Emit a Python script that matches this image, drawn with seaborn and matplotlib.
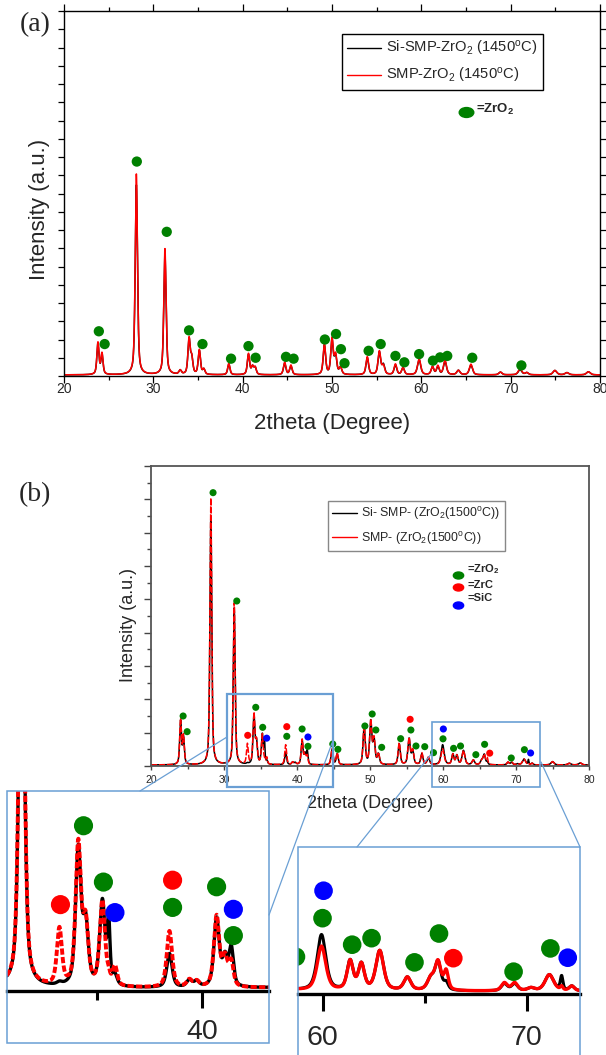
import numpy as np
import matplotlib
matplotlib.use("Agg")
import matplotlib.pyplot as plt
import seaborn as sns
from matplotlib.patches import Rectangle
from matplotlib.lines import Line2D
from matplotlib.path import Path
from matplotlib.ticker import MultipleLocator

# ---------------- data: panel (a) ----------------
a_pos = [23.8, 24.25, 28.1, 31.3, 33.0, 34.0, 34.3, 35.15, 35.65, 38.45, 40.65, 41.1, 41.4,
         44.7, 45.4, 49.15, 50.0, 50.4, 50.95, 53.95, 55.3, 55.75, 57.1, 57.95, 59.75, 61.25,
         61.85, 62.65, 64.15, 65.55, 68.85, 71.05, 71.8, 74.95, 76.3, 78.7]
a_red = [1.75, 1.15, 11.0, 6.9, 0.22, 1.95, 0.85, 1.35, 0.28, 0.62, 1.15, 0.42, 0.38,
         0.68, 0.52, 1.65, 1.95, 1.05, 0.38, 0.98, 1.28, 0.48, 0.58, 0.38, 0.88, 0.43,
         0.48, 0.78, 0.24, 0.58, 0.15, 0.33, 0.12, 0.24, 0.12, 0.17]
a_black = [1.7, 1.1, 10.4, 6.6, 0.22, 1.9, 0.85, 1.3, 0.28, 0.58, 1.1, 0.42, 0.38,
           0.63, 0.48, 1.6, 1.9, 1.0, 0.38, 0.93, 1.23, 0.53, 0.53, 0.38, 0.83, 0.43,
           0.43, 0.73, 0.24, 0.53, 0.15, 0.28, 0.12, 0.24, 0.12, 0.17]
a_width = [0.28, 0.28, 0.3, 0.3, 0.32, 0.3, 0.3, 0.3, 0.3, 0.3, 0.3, 0.3, 0.3,
           0.32, 0.32, 0.32, 0.32, 0.32, 0.34, 0.34, 0.35, 0.35, 0.35, 0.35, 0.42, 0.35,
           0.35, 0.4, 0.42, 0.42, 0.42, 0.48, 0.42, 0.5, 0.5, 0.5]
a_zro2_x = [23.9, 24.55, 28.15, 31.5, 34.0, 35.5, 38.7, 40.65, 41.45, 44.85, 45.7, 49.2,
            50.45, 51.0, 51.4, 54.1, 55.45, 57.1, 58.1, 59.75, 61.3, 62.1, 62.9, 65.7, 71.2]
a_zro2_y = [2.45, 1.75, 11.75, 7.9, 2.5, 1.75, 0.95, 1.64, 1.0, 1.05, 0.95, 2.0,
            2.3, 1.47, 0.7, 1.38, 1.75, 1.1, 0.75, 1.2, 0.84, 1.02, 1.1, 1.0, 0.58]
a_labels = ["Si-SMP-ZrO$_2$ (1450$^{\\rm o}$C)", "SMP-ZrO$_2$ (1450$^{\\rm o}$C)"]

# ---------------- data: panel (b) ----------------
b_pos = [24.05, 24.45, 28.2, 31.4, 33.2, 34.1, 34.45, 35.25, 35.55, 35.85, 38.45, 39.4, 39.75,
         40.7, 41.1, 41.4, 44.8, 45.5, 49.2, 50.1, 50.55, 51.15, 54.0, 55.35, 55.85, 57.1,
         58.0, 59.95, 61.35, 61.9, 62.8, 64.15, 65.3, 65.65, 66.05, 68.9, 69.4, 70.2, 71.1,
         71.7, 72.2, 75.0, 77.3, 78.8]
b_red = [2.7, 1.7, 16.0, 9.7, 1.2, 3.0, 1.3, 1.8, 0.15, 0.4, 1.2, 0.15, 0.12,
         1.5, 0.6, 0.5, 0.95, 0.7, 2.3, 2.6, 1.5, 0.65, 1.3, 1.6, 0.85, 0.7,
         0.45, 0.95, 0.62, 0.55, 0.85, 0.28, 0.25, 0.6, 0.4, 0.17, 0.17, 0.06, 0.35,
         0.08, 0.1, 0.2, 0.1, 0.12]
b_black = [2.6, 1.6, 14.9, 9.4, 0.05, 2.9, 1.3, 1.8, 1.3, 0.2, 0.72, 0.15, 0.12,
           1.45, 0.6, 0.8, 0.9, 0.65, 2.25, 2.55, 1.45, 0.6, 1.25, 1.55, 0.8, 0.65,
           0.4, 1.2, 0.62, 0.55, 0.85, 0.28, 0.25, 0.6, 0.15, 0.15, 0.15, 0.06, 0.35,
           0.3, 0.1, 0.2, 0.1, 0.12]
b_width = [0.28, 0.28, 0.3, 0.3, 0.28, 0.3, 0.3, 0.3, 0.15, 0.25, 0.3, 0.3, 0.3,
           0.3, 0.3, 0.25, 0.32, 0.32, 0.35, 0.35, 0.35, 0.35, 0.35, 0.38, 0.35, 0.35,
           0.4, 0.5, 0.35, 0.35, 0.45, 0.4, 0.4, 0.35, 0.25, 0.35, 0.35, 0.4, 0.5,
           0.15, 0.3, 0.5, 0.5, 0.5]
b_zro2_x = [24.4, 24.95, 28.5, 31.75, 34.35, 35.3, 38.6, 40.7, 41.5, 44.9, 45.6, 49.3, 50.3,
            50.8, 51.6, 54.2, 55.6, 56.3, 57.5, 58.7, 60.0, 61.45, 62.4, 64.5, 65.7, 69.35, 71.15]
b_zro2_y = [3.0, 2.06, 16.4, 9.9, 3.52, 2.32, 1.78, 2.22, 1.18, 1.32, 1.0, 2.4, 3.12,
            2.16, 1.12, 1.64, 2.16, 1.2, 1.16, 0.8, 1.63, 1.06, 1.2, 0.68, 1.3, 0.48, 0.98]
b_zrc_x = [33.25, 38.6, 55.5, 66.4]
b_zrc_y = [1.84, 2.36, 2.8, 0.77]
b_sic_x = [35.85, 41.5, 60.05, 72.0]
b_sic_y = [1.67, 1.74, 2.22, 0.78]
b_labels = ["Si- SMP- (ZrO$_2$(1500$^{\\rm o}$C))", "SMP- (ZrO$_2$(1500$^{\\rm o}$C))"]

zoom1_range = (30.7, 43.2)
zoom2_range = (58.8, 72.6)

GREEN, RED, BLUE = "#008000", "#FF0000", "#0000FF"
FRAME = "#6A9FD4"

# ---------------- style ----------------
sns.set_theme(style="ticks")
plt.rcParams["font.family"] = ["Liberation Sans", "DejaVu Sans"]
plt.rcParams["mathtext.fontset"] = "custom"
plt.rcParams["mathtext.rm"] = "Liberation Sans"
plt.rcParams["mathtext.bf"] = "Liberation Sans:bold"
plt.rcParams["mathtext.it"] = "Liberation Sans:italic"

W, H = 606, 1055
fig = plt.figure(figsize=(W / 100, H / 100), dpi=100)


def px_axes(l, t, r, b):
    return fig.add_axes([l / W, 1 - b / H, (r - l) / W, (b - t) / H])


def fp(x, y):
    return (x / W, 1 - y / H)


x_grid = np.linspace(20, 80, 12001)


def pattern(pos, hts, wid, base):
    y = np.full_like(x_grid, base)
    for p, h, w in zip(pos, hts, wid):
        d = (x_grid - p) / (w / 2)
        y = y + h * (0.55 / (1 + d ** 2) + 0.45 * np.exp(-np.log(2) * d ** 2))
    return y


a_blk = pattern(a_pos, a_black, a_width, 0.06)
a_rd = pattern(a_pos, a_red, a_width, 0.06)
b_blk = pattern(b_pos, b_black, b_width, 0.06)
b_rd = pattern(b_pos, b_red, b_width, 0.06)

ell = Path(Path.unit_circle().vertices * np.array([1.0, 0.68]), Path.unit_circle().codes)

# ---------------- panel (a) ----------------
axa = px_axes(64, 11, 600, 376)
sns.lineplot(x=x_grid, y=a_blk, ax=axa, color="black", lw=1.1, estimator=None, sort=False)
sns.lineplot(x=x_grid, y=a_rd, ax=axa, color=RED, lw=1.1, estimator=None, sort=False)
sns.scatterplot(x=a_zro2_x, y=a_zro2_y, ax=axa, color=GREEN, s=55, edgecolor="none", zorder=5)
axa.set_xlim(20, 80)
axa.set_ylim(0, 20)
axa.xaxis.set_major_locator(MultipleLocator(10))
axa.xaxis.set_minor_locator(MultipleLocator(5))
axa.yaxis.set_major_locator(MultipleLocator(1))
axa.tick_params(axis="both", which="both", direction="out", top=True, right=True,
                labeltop=False, labelright=False, labelleft=False, color="black", width=0.9)
axa.tick_params(axis="x", which="major", length=5, pad=-0.9, labelsize=10)
axa.tick_params(axis="x", which="minor", length=3)
axa.tick_params(axis="y", which="major", length=4)
for sp in axa.spines.values():
    sp.set_visible(True)
    sp.set_color("black")
    sp.set_linewidth(1.0)
axa.set_xlabel("2theta (Degree)", fontsize=16)
axa.xaxis.set_label_coords(0.5, -0.101)
axa.set_ylabel("Intensity (a.u.)", fontsize=16)
axa.yaxis.set_label_coords(-0.027, 0.4575)
h_a = [Line2D([], [], color="black", lw=1.0), Line2D([], [], color=RED, lw=1.0)]
leg = axa.legend(h_a, a_labels, loc="upper left", bbox_to_anchor=(0.519, 0.937), borderaxespad=0,
                 fontsize=10.6, handlelength=2.3, handletextpad=0.35, labelspacing=0.55,
                 borderpad=0.35, fancybox=False, framealpha=1, edgecolor="black")
leg.get_frame().set_linewidth(1.0)
axa.scatter([0.75], [0.723], transform=axa.transAxes, marker=ell, s=110, color=GREEN, clip_on=False)
axa.text(0.7687, 0.729, "=ZrO$_\\mathbf{2}$", transform=axa.transAxes, fontsize=9.5,
         fontweight="bold", va="center", ha="left")
fig.text(*fp(35, 25), "(a)", family="Liberation Serif", fontsize=20, ha="center", va="center")

# ---------------- panel (b) ----------------
axb = px_axes(151, 466, 589, 766)
sns.lineplot(x=x_grid, y=b_blk, ax=axb, color="black", lw=1.1, estimator=None, sort=False)
sns.lineplot(x=x_grid, y=b_rd, ax=axb, color=RED, lw=1.1, linestyle=(0, (4, 1.2)),
             estimator=None, sort=False)
sns.scatterplot(x=b_zro2_x, y=b_zro2_y, ax=axb, color=GREEN, s=26, edgecolor="none", zorder=5)
sns.scatterplot(x=b_zrc_x, y=b_zrc_y, ax=axb, color=RED, s=26, edgecolor="none", zorder=5)
sns.scatterplot(x=b_sic_x, y=b_sic_y, ax=axb, color=BLUE, s=26, edgecolor="none", zorder=5)
axb.set_xlim(20, 80)
axb.set_ylim(0, 18)
axb.xaxis.set_major_locator(MultipleLocator(10))
axb.xaxis.set_minor_locator(MultipleLocator(5))
axb.yaxis.set_major_locator(MultipleLocator(2))
axb.yaxis.set_minor_locator(MultipleLocator(1))
axb.tick_params(axis="both", which="both", direction="out", labelleft=False,
                color="#444444", width=1.0)
axb.tick_params(axis="x", which="major", length=3, pad=3.5, labelsize=7.5)
axb.tick_params(axis="x", which="minor", length=2)
axb.tick_params(axis="y", which="major", length=5)
axb.tick_params(axis="y", which="minor", length=3)
for sp in axb.spines.values():
    sp.set_visible(True)
    sp.set_color("#555555")
    sp.set_linewidth(1.3)
axb.set_xlabel("2theta (Degree)", fontsize=13)
axb.xaxis.set_label_coords(0.5, -0.097)
axb.set_ylabel("Intensity (a.u.)", fontsize=13)
axb.yaxis.set_label_coords(-0.032, 0.47)
h_b = [Line2D([], [], color="black", lw=1.0), Line2D([], [], color=RED, lw=1.0)]
legb = axb.legend(h_b, b_labels, loc="upper left", bbox_to_anchor=(0.404, 0.883), borderaxespad=0,
                  fontsize=8.9, handlelength=2.0, handletextpad=0.35, labelspacing=0.6,
                  borderpad=0.35, fancybox=False, framealpha=1, edgecolor="#888888")
legb.get_frame().set_linewidth(1.0)
for (my, ty, col, txt) in [(0.637, 0.657, GREEN, "=ZrO$_\\mathbf{2}$"),
                           (0.597, 0.603, RED, "=ZrC"),
                           (0.537, 0.56, BLUE, "=SiC")]:
    axb.scatter([0.701], [my], transform=axb.transAxes, marker=ell, s=55, color=col, clip_on=False)
    axb.text(0.7215, ty, txt, transform=axb.transAxes, fontsize=8, fontweight="bold",
             va="center", ha="left")
fig.text(*fp(35, 495), "(b)", family="Liberation Serif", fontsize=20, ha="center", va="center")

# zoom boxes on panel (b)
axb.add_patch(Rectangle((30.4, -1.26), 14.5, 5.58, fill=False, ec=FRAME, lw=1.6, clip_on=False, zorder=6))
axb.add_patch(Rectangle((58.5, -1.26), 14.8, 3.9, fill=False, ec=FRAME, lw=1.2, clip_on=False, zorder=6))


# ---------------- insets ----------------
def style_inset(ax, xr, ylim, ticks, pad):
    ax.set_xlim(*xr)
    ax.set_ylim(*ylim)
    for k in ["top", "left", "right"]:
        ax.spines[k].set_visible(False)
    ax.spines["bottom"].set_color("black")
    ax.spines["bottom"].set_linewidth(2.4)
    ax.set_yticks([])
    ax.set_xticks(ticks)
    ax.xaxis.set_minor_locator(MultipleLocator(5))
    ax.tick_params(axis="x", which="major", direction="out", length=12, width=2.2,
                   labelsize=20.5, pad=pad, color="black")
    ax.tick_params(axis="x", which="minor", direction="out", length=6.5, width=2.2, color="black")
    ax.set_xlabel("")
    ax.set_ylabel("")


ax1 = px_axes(7, 791, 269, 991)
sns.lineplot(x=x_grid, y=b_blk, ax=ax1, color="black", lw=2.4, estimator=None, sort=False)
sns.lineplot(x=x_grid, y=b_rd, ax=ax1, color=RED, lw=2.8, linestyle=(0, (1.6, 0.6)),
             estimator=None, sort=False)
sns.scatterplot(x=b_zro2_x, y=b_zro2_y, ax=ax1, color=GREEN, s=190, edgecolor="none", zorder=5)
sns.scatterplot(x=b_zrc_x, y=b_zrc_y, ax=ax1, color=RED, s=190, edgecolor="none", zorder=5)
sns.scatterplot(x=b_sic_x, y=b_sic_y, ax=ax1, color=BLUE, s=190, edgecolor="none", zorder=5)
style_inset(ax1, zoom1_range, (0, 4.26), [40], 8.0)

ax2 = px_axes(298, 847, 580, 994)
sns.lineplot(x=x_grid, y=b_blk, ax=ax2, color="black", lw=2.2, estimator=None, sort=False)
sns.lineplot(x=x_grid, y=b_rd, ax=ax2, color=RED, lw=2.4, estimator=None, sort=False)
sns.scatterplot(x=b_zro2_x, y=b_zro2_y, ax=ax2, color=GREEN, s=180, edgecolor="none", zorder=5)
sns.scatterplot(x=b_zrc_x, y=b_zrc_y, ax=ax2, color=RED, s=180, edgecolor="none", zorder=5)
sns.scatterplot(x=b_sic_x, y=b_sic_y, ax=ax2, color=BLUE, s=180, edgecolor="none", zorder=5)
style_inset(ax2, zoom2_range, (0, 3.16), [60, 70], 10.0)

# inset frames
for (l, t, r, b) in [(7, 791, 269, 1043), (298, 847, 580, 1058)]:
    x0, y0 = fp(l, b)
    x1, y1 = fp(r, t)
    fig.add_artist(Rectangle((x0, y0), x1 - x0, y1 - y0, transform=fig.transFigure,
                             fill=False, ec=FRAME, lw=1.1, zorder=10))

# connector lines
for (p, q) in [((227, 737), (140, 791)), ((332, 743), (269, 915)),
               ((432, 753), (357, 847)), ((541, 762), (580, 847))]:
    (xa, ya), (xb, yb) = fp(*p), fp(*q)
    fig.add_artist(Line2D([xa, xb], [ya, yb], transform=fig.transFigure, color=FRAME, lw=0.9, zorder=10))

fig.savefig("out.png", dpi=100)
